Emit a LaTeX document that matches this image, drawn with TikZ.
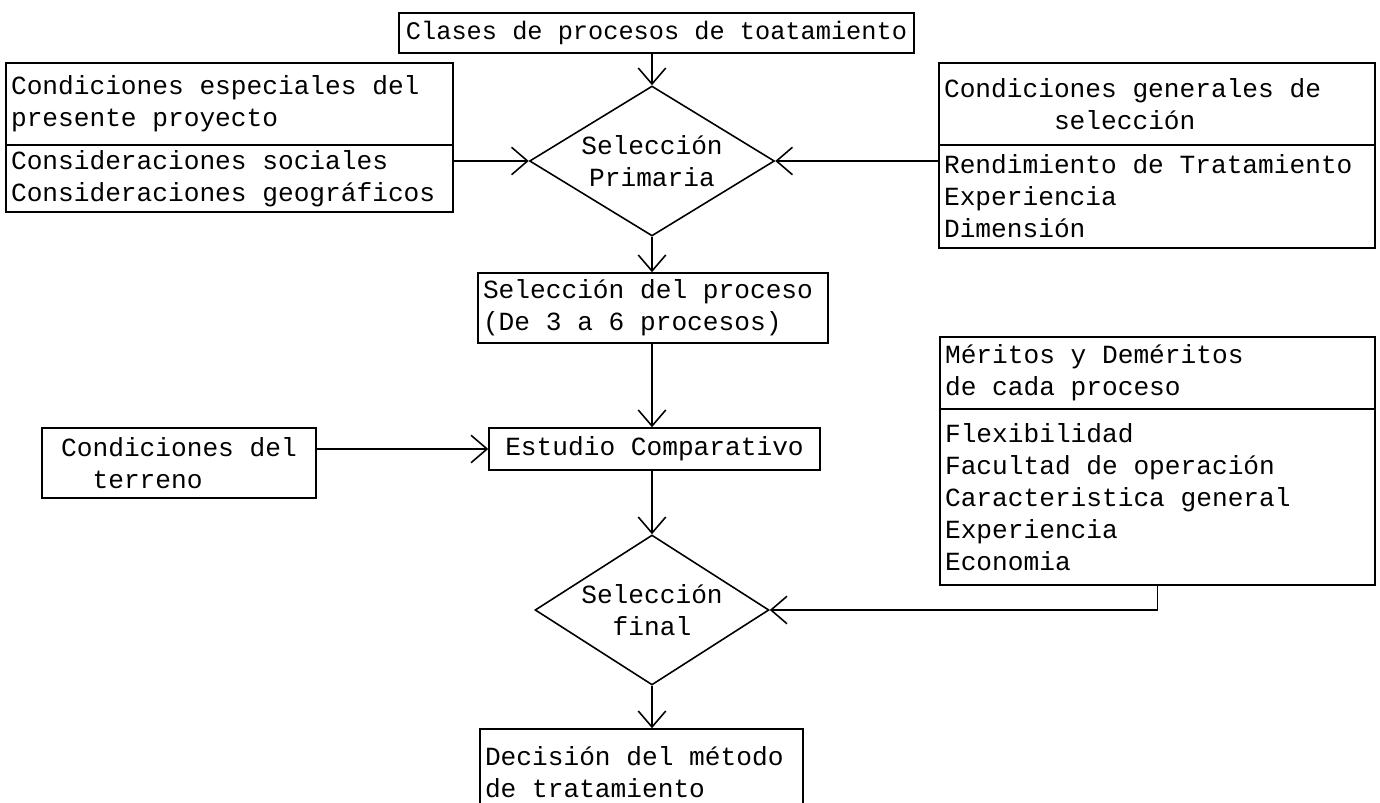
\documentclass[tikz,border=0pt]{standalone}
\usepackage{fontspec}
\newfontfamily\maquina{Liberation Mono}
\usetikzlibrary{shapes.geometric,arrows.meta}

\tikzset{
  caja/.style={draw, line width=0.9pt, rectangle, inner xsep=0.1cm, inner ysep=0pt,
    align=flush left, font=\maquina\fontsize{14.9pt}{18.2pt}\selectfont},
  rombo/.style={draw, line width=0.9pt, diamond, inner sep=0pt, align=center,
    font=\maquina\fontsize{14.9pt}{18.2pt}\selectfont},
  flecha/.style={line width=0.9pt, -{Straight Barb[length=0.32cm,width=0.55cm]}}
}

\begin{document}
\begin{tikzpicture}[x=0.02cm, y=-0.02cm]
  \useasboundingbox (0,0) rectangle (1380,803);

  \node[caja, align=center, minimum width=10.3cm, minimum height=0.8cm,
    font=\maquina\fontsize{14.4pt}{18pt}\selectfont] (cls) at (656.5,33)
    {Clases de procesos de toatamiento};

  % left column
  \node[caja, text width=8.74cm, minimum height=1.64cm] (esp) at (229.5,104)
    {Condiciones especiales del\\presente proyecto};
  \node[caja, text width=8.74cm, minimum height=1.34cm] (soc) at (229.5,178.5)
    {Consideraciones sociales\\Consideraciones geográficos};
  \node[caja, minimum width=5.48cm, minimum height=1.4cm] (ter) at (179,463)
    {Condiciones del\\~~terreno};

  % right column
  \node[caja, text width=8.52cm, minimum height=1.64cm] (gen) at (1157,104)
    {Condiciones generales de\\~~~~~~~selección};
  \node[caja, text width=8.52cm, minimum height=2.06cm] (ren) at (1157,196.5)
    {Rendimiento de Tratamiento\\Experiencia\\Dimensión};
  \node[caja, text width=8.5cm, minimum height=1.44cm] (mer) at (1157.5,373)
    {Méritos y Deméritos\\de cada proceso};
  \node[caja, text width=8.5cm, minimum height=3.52cm] (flx) at (1157.5,497)
    {Flexibilidad\\Facultad de operación\\Caracteristica general\\Experiencia\\Economia};

  % main column
  \node[rombo, aspect=1.63, minimum width=4.9cm, minimum height=3cm] (d1) at (652,161)
    {Selección\\Primaria};
  \node[caja, text width=6.8cm, minimum height=1.4cm] (sel) at (653,308)
    {Selección del proceso\\(De 3 a 6 procesos)};
  \node[caja, align=center, minimum width=6.62cm, minimum height=0.84cm] (est) at (654.5,449)
    {Estudio Comparativo};
  \node[rombo, aspect=1.56, minimum width=4.68cm, minimum height=3cm] (d2) at (652,610)
    {Selección\\final};
  \node[caja, text width=6.26cm, minimum height=1.72cm] (dec) at (641.5,772)
    {Decisión del método\\de tratamiento};

  \path[flecha]
    (d1.north |- cls.south) edge (d1.north)
    (soc.east |- d1.west) edge (d1.west)
    (ren.west |- d1.east) edge (d1.east)
    (d1.south) edge (d1.south |- sel.north)
    (d1.south |- sel.south) edge (d1.south |- est.north)
    (ter.east |- est.west) edge (est.west)
    (d2.north |- est.south) edge (d2.north)
    (d2.south) edge (d2.south |- dec.north);
  \draw[flecha] (flx.south) |- (d2.east);
\end{tikzpicture}
\end{document}
